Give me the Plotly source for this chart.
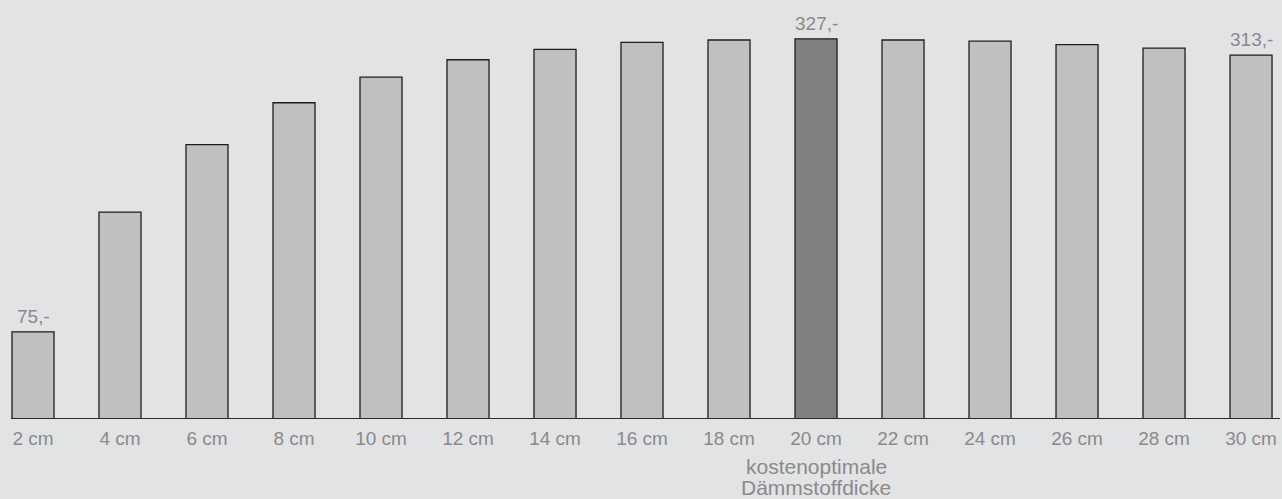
import plotly.graph_objects as go

# Dämmstoffdicke und zugehöriger Wert je Dicke
categories = ["2 cm", "4 cm", "6 cm", "8 cm", "10 cm", "12 cm", "14 cm", "16 cm",
              "18 cm", "20 cm", "22 cm", "24 cm", "26 cm", "28 cm", "30 cm"]
values = [75, 178, 236, 272, 294, 309, 318, 324, 326, 327, 326, 325, 322, 319, 313]
labelled = {"2 cm": "75,-", "20 cm": "327,-", "30 cm": "313,-"}
optimum = "20 cm"
optimum_note = ["kostenoptimale", "Dämmstoffdicke"]

BG = "#e2e3e5"
TEXT = "#8a8a8a"
FONT = "Arial, Liberation Sans, sans-serif"

colors = ["#808080" if c == optimum else "#c0c0c0" for c in categories]

fig = go.Figure(go.Bar(
    x=categories,
    y=values,
    marker=dict(color=colors, line=dict(color="#1e1e1e", width=1.3)),
    hoverinfo="skip",
))

# value labels above selected bars
for cat, val in zip(categories, values):
    if cat in labelled:
        fig.add_annotation(x=cat, y=val, xref="x", yref="y", yanchor="bottom",
                           yshift=3, text=labelled[cat], showarrow=False,
                           font=dict(family=FONT, size=19, color=TEXT))

# baseline under the bars
fig.add_shape(type="line", xref="x", yref="y",
              x0=-0.253, x1=14.333, y0=0, y1=0,
              line=dict(color="#2a2a2a", width=2))

# note below the optimal thickness, one line per annotation
for k, line in enumerate(optimum_note):
    fig.add_annotation(x=optimum, y=0, xref="x", yref="y",
                       yshift=-47 - 21.7 * k, text=line, showarrow=False,
                       yanchor="middle",
                       font=dict(family=FONT, size=21, color=TEXT))

fig.update_layout(
    width=1282, height=499,
    margin=dict(l=0, r=0, t=0, b=80),
    paper_bgcolor=BG, plot_bgcolor=BG,
    bargap=0.517,
    showlegend=False,
)
fig.update_xaxes(range=[-0.3793, 14.356], showgrid=False, zeroline=False,
                 showline=False, ticks="", ticklabelstandoff=6,
                 tickfont=dict(family=FONT, size=19, color=TEXT))
fig.update_yaxes(range=[0, 360.4], visible=False)

fig.write_html("out.html")
